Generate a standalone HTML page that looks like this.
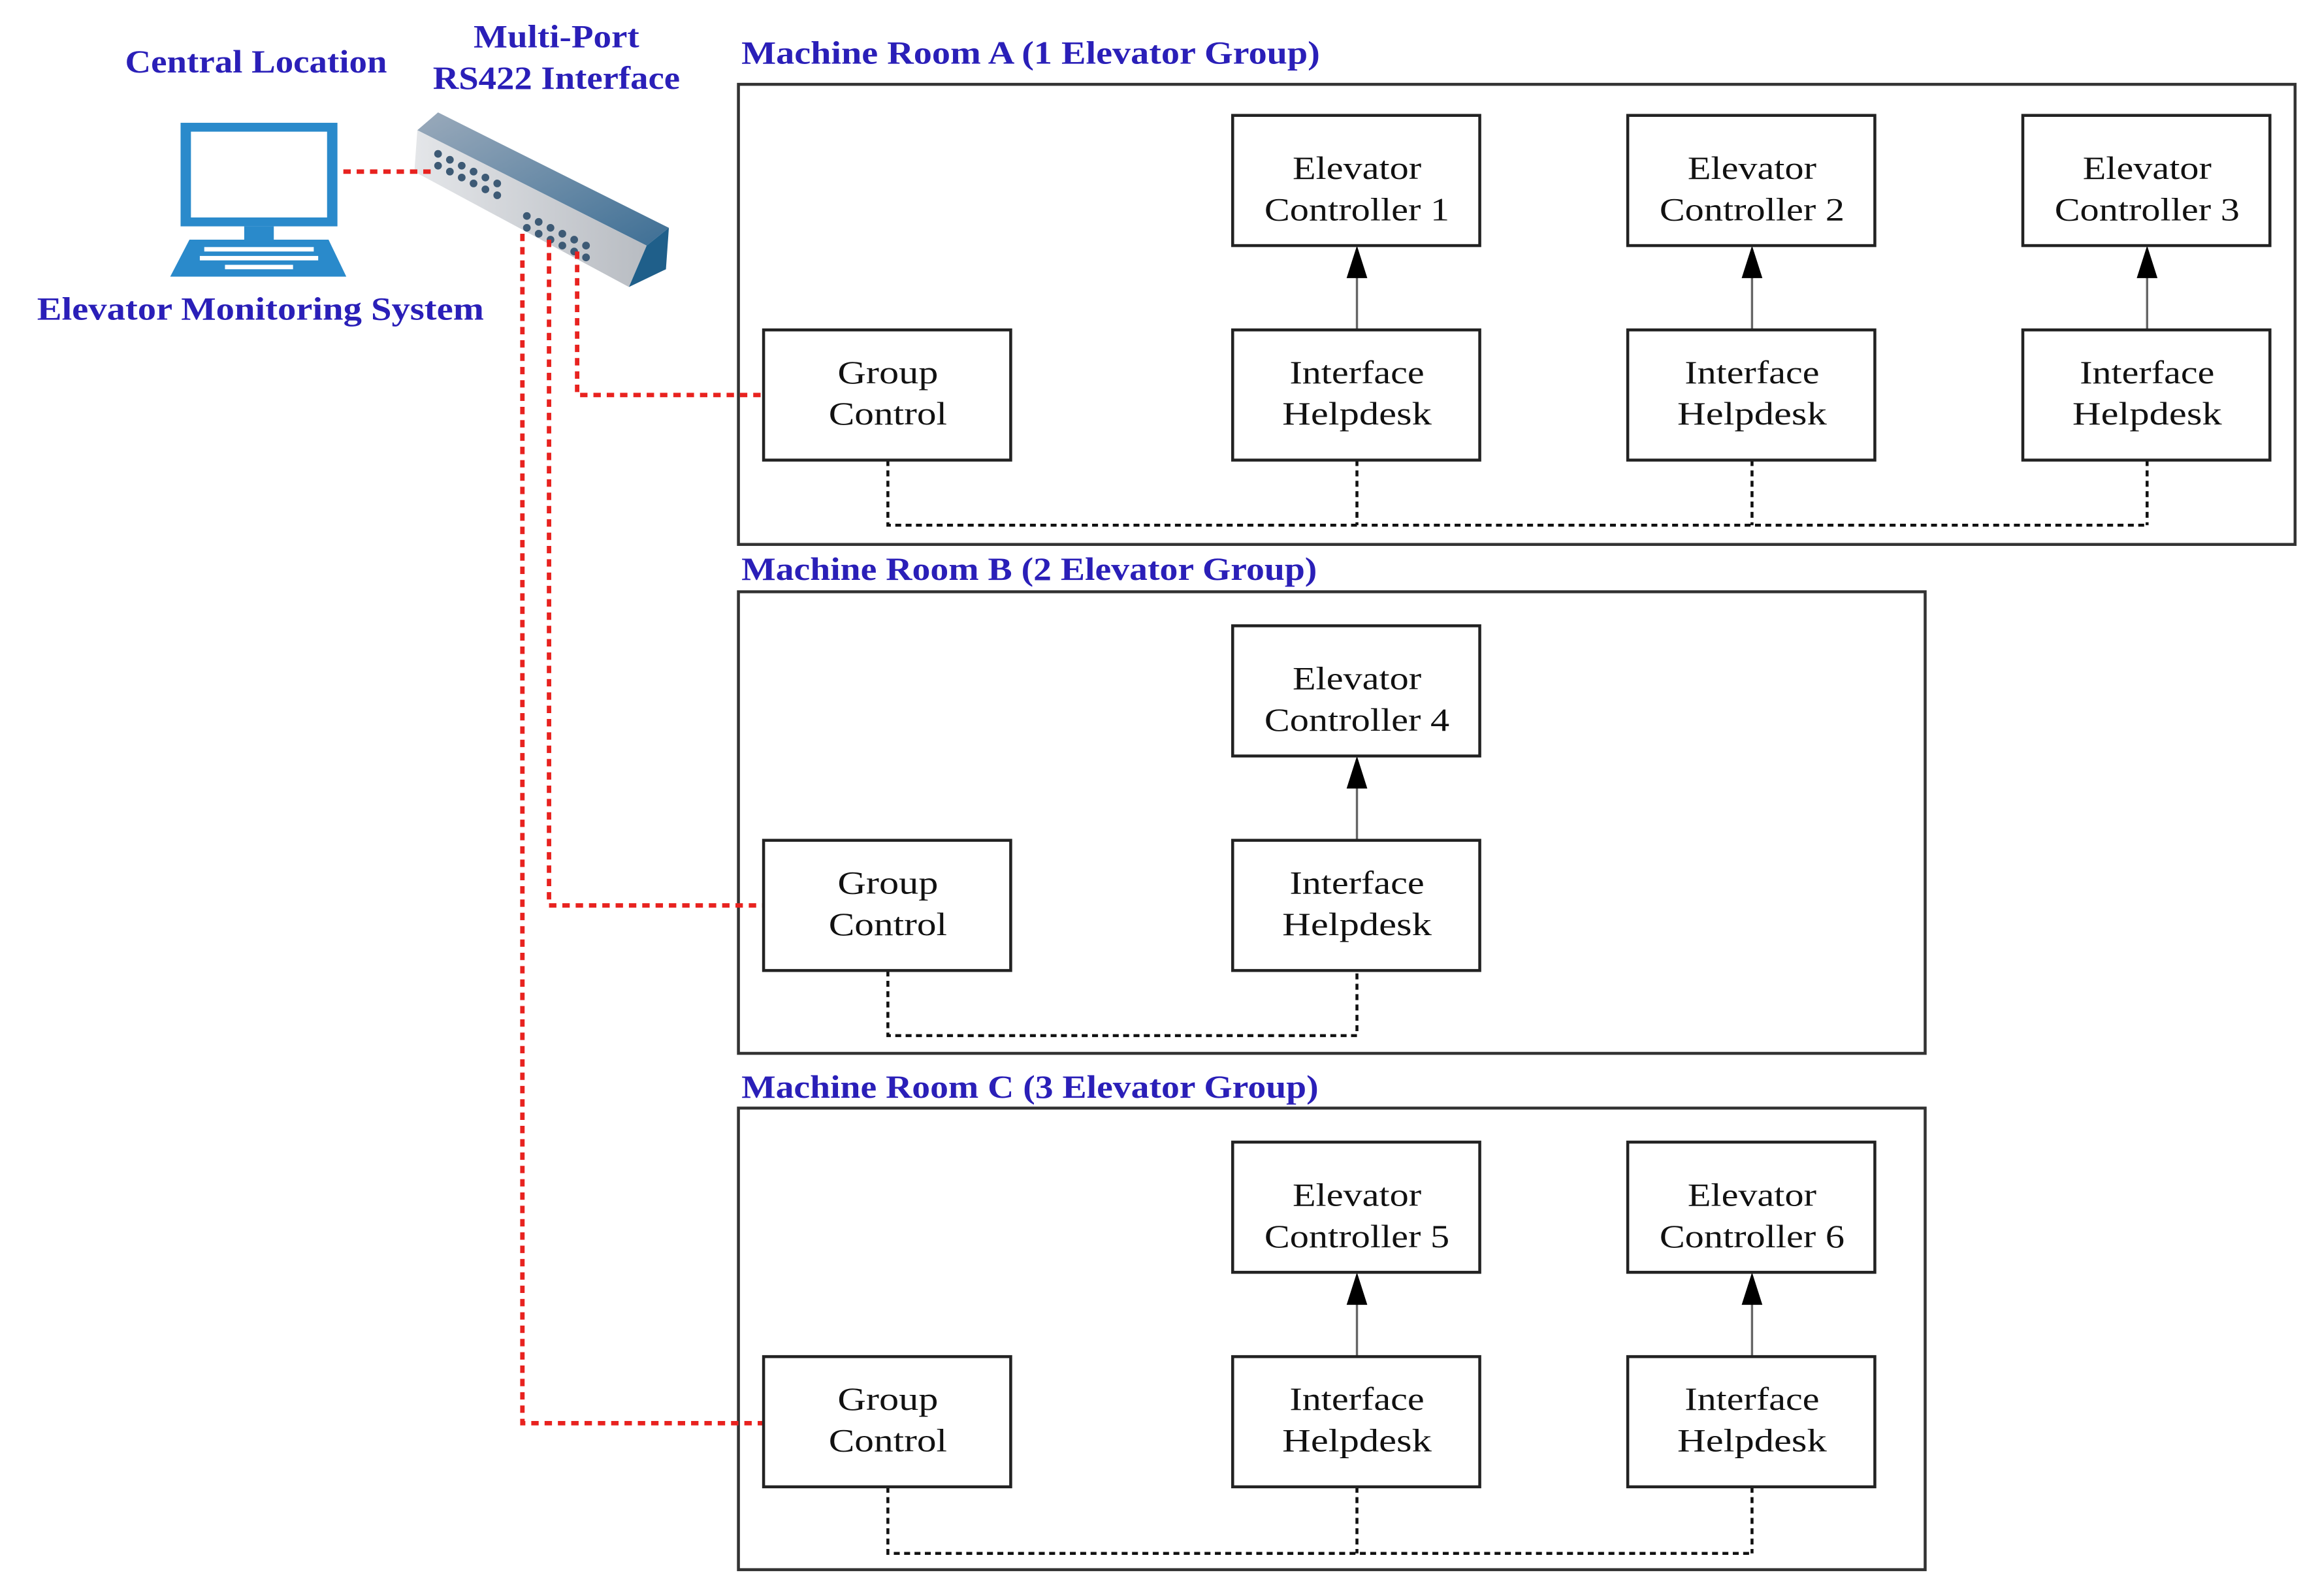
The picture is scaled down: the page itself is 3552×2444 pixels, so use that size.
<!DOCTYPE html>
<html><head><meta charset="utf-8"><style>html,body{margin:0;padding:0;background:#fff}svg{display:block}</style></head><body>
<svg width="3552" height="2444" viewBox="0 0 1567.8 1078.8" xmlns="http://www.w3.org/2000/svg">
<defs>
<linearGradient id="tg" x1="0" y1="0" x2="1" y2="1"><stop offset="0" stop-color="#9aaabb"/><stop offset="1" stop-color="#3e6f95"/></linearGradient>
<linearGradient id="fg" x1="0" y1="0" x2="1" y2="0"><stop offset="0" stop-color="#e4e6e9"/><stop offset="1" stop-color="#b8bcc2"/></linearGradient>
</defs>
<g font-family="Liberation Serif, serif" font-weight="bold" fill="#2a1fb8" font-size="22" lengthAdjust="spacingAndGlyphs">
<text x="173" y="49" text-anchor="middle" textLength="177" lengthAdjust="spacingAndGlyphs">Central Location</text>
<text x="376" y="32" text-anchor="middle" textLength="112" lengthAdjust="spacingAndGlyphs">Multi-Port</text>
<text x="376" y="60" text-anchor="middle" textLength="167" lengthAdjust="spacingAndGlyphs">RS422 Interface</text>
<text x="176" y="216" text-anchor="middle" textLength="302" lengthAdjust="spacingAndGlyphs">Elevator Monitoring System</text>
<text x="501" y="43" textLength="391" lengthAdjust="spacingAndGlyphs">Machine Room A (1 Elevator Group)</text>
<text x="501" y="392" textLength="389" lengthAdjust="spacingAndGlyphs">Machine Room B (2 Elevator Group)</text>
<text x="501" y="742" textLength="390" lengthAdjust="spacingAndGlyphs">Machine Room C (3 Elevator Group)</text>
</g>
<!-- computer -->
<rect x="122" y="83" width="106" height="70" fill="#2a8acb"/>
<rect x="129" y="89" width="92" height="58" fill="#fff"/>
<rect x="165" y="153" width="20" height="9" fill="#2a8acb"/>
<polygon points="128,162 222,162 234,187 115,187" fill="#2a8acb"/>
<g fill="#fff"><rect x="138" y="167" width="74" height="3"/><rect x="135" y="173" width="80" height="3"/><rect x="152" y="179" width="46" height="3"/></g>
<!-- switch -->
<polygon points="282,88 296,76 452,154 437,166" fill="url(#tg)"/>
<polygon points="282,88 437,166 425,194 280,116" fill="url(#fg)"/>
<polygon points="437,166 452,154 450,182 425,194" fill="#1f5f8a"/>
<g fill="#3d5a75">
<circle cx="296" cy="104" r="2.6"/><circle cx="304" cy="108" r="2.6"/><circle cx="312" cy="112" r="2.6"/><circle cx="320" cy="116" r="2.6"/><circle cx="328" cy="120" r="2.6"/><circle cx="336" cy="124" r="2.6"/>
<circle cx="296" cy="112" r="2.6"/><circle cx="304" cy="116" r="2.6"/><circle cx="312" cy="120" r="2.6"/><circle cx="320" cy="124" r="2.6"/><circle cx="328" cy="128" r="2.6"/><circle cx="336" cy="132" r="2.6"/>
<circle cx="356" cy="146" r="2.6"/><circle cx="364" cy="150" r="2.6"/><circle cx="372" cy="154" r="2.6"/><circle cx="380" cy="158" r="2.6"/><circle cx="388" cy="162" r="2.6"/><circle cx="396" cy="166" r="2.6"/>
<circle cx="356" cy="154" r="2.6"/><circle cx="364" cy="158" r="2.6"/><circle cx="372" cy="162" r="2.6"/><circle cx="380" cy="166" r="2.6"/><circle cx="388" cy="170" r="2.6"/><circle cx="396" cy="174" r="2.6"/>
</g>
<!-- rooms -->
<g fill="none" stroke="#333" stroke-width="2">
<rect x="499" y="57" width="1052" height="311"/>
<rect x="499" y="400" width="802" height="312"/>
<rect x="499" y="749" width="802" height="312"/>
</g>
<!-- red lines -->
<g fill="none" stroke="#e8221f" stroke-width="3" stroke-dasharray="5,4">
<path d="M232 116H292"/>
<path d="M390 170V267H516"/>
<path d="M371 162V612H516"/>
<path d="M353 158V962H516"/>
</g>
<!-- bus dotted -->
<g fill="none" stroke="#111" stroke-width="2" stroke-dasharray="4,3">
<path d="M600 311V355H1451M917 311V355M1184 311V355M1451 311V355"/>
<path d="M600 656V700H917V656"/>
<path d="M600 1005V1050H1184M917 1005V1050M1184 1005V1050"/>
</g>
<!-- arrows -->
<g stroke="#666" stroke-width="1.5">
<path d="M917 223V186M1184 223V186M1451 223V186M917 568V531M917 917V880M1184 917V880"/>
</g>
<g fill="#000">
<polygon points="917,166 910,188 924,188"/><polygon points="1184,166 1177,188 1191,188"/><polygon points="1451,166 1444,188 1458,188"/>
<polygon points="917,511 910,533 924,533"/><polygon points="917,860 910,882 924,882"/><polygon points="1184,860 1177,882 1191,882"/>
</g>
<!-- boxes -->
<g fill="#fff" stroke="#222" stroke-width="2">
<rect x="516" y="223" width="167" height="88"/><rect x="833" y="78" width="167" height="88"/><rect x="833" y="223" width="167" height="88"/>
<rect x="1100" y="78" width="167" height="88"/><rect x="1100" y="223" width="167" height="88"/>
<rect x="1367" y="78" width="167" height="88"/><rect x="1367" y="223" width="167" height="88"/>
<rect x="516" y="568" width="167" height="88"/><rect x="833" y="423" width="167" height="88"/><rect x="833" y="568" width="167" height="88"/>
<rect x="516" y="917" width="167" height="88"/><rect x="833" y="772" width="167" height="88"/><rect x="833" y="917" width="167" height="88"/>
<rect x="1100" y="772" width="167" height="88"/><rect x="1100" y="917" width="167" height="88"/>
</g>
<g font-family="Liberation Serif, serif" font-size="22" fill="#111" text-anchor="middle">
<text x="600" y="259" textLength="68" lengthAdjust="spacingAndGlyphs">Group</text><text x="600" y="287" textLength="80" lengthAdjust="spacingAndGlyphs">Control</text>
<text x="917" y="121" textLength="87" lengthAdjust="spacingAndGlyphs">Elevator</text><text x="917" y="149" textLength="125" lengthAdjust="spacingAndGlyphs">Controller 1</text>
<text x="917" y="259" textLength="91" lengthAdjust="spacingAndGlyphs">Interface</text><text x="917" y="287" textLength="101" lengthAdjust="spacingAndGlyphs">Helpdesk</text>
<text x="1184" y="121" textLength="87" lengthAdjust="spacingAndGlyphs">Elevator</text><text x="1184" y="149" textLength="125" lengthAdjust="spacingAndGlyphs">Controller 2</text>
<text x="1184" y="259" textLength="91" lengthAdjust="spacingAndGlyphs">Interface</text><text x="1184" y="287" textLength="101" lengthAdjust="spacingAndGlyphs">Helpdesk</text>
<text x="1451" y="121" textLength="87" lengthAdjust="spacingAndGlyphs">Elevator</text><text x="1451" y="149" textLength="125" lengthAdjust="spacingAndGlyphs">Controller 3</text>
<text x="1451" y="259" textLength="91" lengthAdjust="spacingAndGlyphs">Interface</text><text x="1451" y="287" textLength="101" lengthAdjust="spacingAndGlyphs">Helpdesk</text>
<text x="600" y="604" textLength="68" lengthAdjust="spacingAndGlyphs">Group</text><text x="600" y="632" textLength="80" lengthAdjust="spacingAndGlyphs">Control</text>
<text x="917" y="466" textLength="87" lengthAdjust="spacingAndGlyphs">Elevator</text><text x="917" y="494" textLength="125" lengthAdjust="spacingAndGlyphs">Controller 4</text>
<text x="917" y="604" textLength="91" lengthAdjust="spacingAndGlyphs">Interface</text><text x="917" y="632" textLength="101" lengthAdjust="spacingAndGlyphs">Helpdesk</text>
<text x="600" y="953" textLength="68" lengthAdjust="spacingAndGlyphs">Group</text><text x="600" y="981" textLength="80" lengthAdjust="spacingAndGlyphs">Control</text>
<text x="917" y="815" textLength="87" lengthAdjust="spacingAndGlyphs">Elevator</text><text x="917" y="843" textLength="125" lengthAdjust="spacingAndGlyphs">Controller 5</text>
<text x="917" y="953" textLength="91" lengthAdjust="spacingAndGlyphs">Interface</text><text x="917" y="981" textLength="101" lengthAdjust="spacingAndGlyphs">Helpdesk</text>
<text x="1184" y="815" textLength="87" lengthAdjust="spacingAndGlyphs">Elevator</text><text x="1184" y="843" textLength="125" lengthAdjust="spacingAndGlyphs">Controller 6</text>
<text x="1184" y="953" textLength="91" lengthAdjust="spacingAndGlyphs">Interface</text><text x="1184" y="981" textLength="101" lengthAdjust="spacingAndGlyphs">Helpdesk</text>
</g>
</svg>
</body></html>
